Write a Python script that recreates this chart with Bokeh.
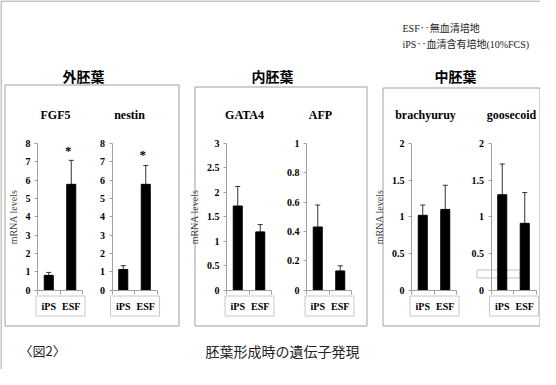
from bokeh.plotting import figure
from bokeh.models import (Range1d, LinearAxis, FixedTicker, NumeralTickFormatter,
                          ColumnDataSource, Whisker, TeeHead)
from bokeh.core.properties import value
from bokeh.embed import file_html
from bokeh.resources import INLINE

# ---------------- data ----------------
conditions = ["iPS", "ESF"]
genes = ["FGF5", "nestin", "GATA4", "AFP", "brachyuruy", "goosecoid"]
panel_titles = ["外胚葉", "内胚葉", "中胚葉"]

fgf5_values = [0.80, 5.77]
fgf5_upper = [0.96, 7.08]
nestin_values = [1.12, 5.77]
nestin_upper = [1.33, 6.80]
gata4_values = [1.72, 1.19]
gata4_upper = [2.12, 1.34]
afp_values = [0.43, 0.13]
afp_upper = [0.58, 0.165]
brachyury_values = [1.02, 1.10]
brachyury_upper = [1.16, 1.43]
goosecoid_values = [1.30, 0.91]
goosecoid_upper = [1.72, 1.33]

fgf5_ticks = [0, 1, 2, 3, 4, 5, 6, 7, 8]
nestin_ticks = [0, 1, 2, 3, 4, 5, 6, 7, 8]
gata4_ticks = [0, 0.5, 1, 1.5, 2, 2.5, 3]
afp_ticks = [0, 0.2, 0.4, 0.6, 0.8, 1]
brachyury_ticks = [0, 0.5, 1, 1.5, 2]
goosecoid_ticks = [0, 0.5, 1, 1.5, 2]

star_text = "*"
fgf5_star = 7.62
nestin_star = 7.40

y_label = "mRNA levels"
legend_lines = ["ESF‥無血清培地", "iPS‥血清含有培地(10%FCS)"]
fig_label = "〈図2〉"
fig_caption = "胚葉形成時の遺伝子発現"

values = [fgf5_values, nestin_values, gata4_values, afp_values, brachyury_values, goosecoid_values]
uppers = [fgf5_upper, nestin_upper, gata4_upper, afp_upper, brachyury_upper, goosecoid_upper]
ticks = [fgf5_ticks, nestin_ticks, gata4_ticks, afp_ticks, brachyury_ticks, goosecoid_ticks]
stars = {0: fgf5_star, 1: nestin_star}

# ---------------- layout (page pixels) ----------------
PX0, PX1, PY0, PY1 = 8, 548, 8, 377
chart_x0 = [45, 119.5, 234, 314, 419, 498.5]
cat_w = 22.5
y_zero, y_top = 297.5, 151
title_cx = [63, 137, 252, 328, 433, 519]
title_y = 122
panel_boxes = [(12.5, 186.5, 92.5, 333.5), (202.5, 374.5, 94.5, 333.5), (390.5, 547.5, 95.5, 333.5)]
panel_title_x = [91, 280, 463]
panel_title_y = 83

SERIF = "Liberation Serif"
CJK = "Noto Sans CJK JP"
MIX = "'Liberation Serif', 'Noto Sans CJK JP'"
GRAY = "#a0a0a0"

p = figure(width=PX1 - PX0, height=PY1 - PY0,
           x_range=Range1d(PX0, PX1), y_range=Range1d(PY1, PY0),
           x_axis_type=None, y_axis_type=None, toolbar_location=None,
           output_backend="svg", min_border=0, outline_line_color=None)

# outer frame
p.segment(x0=[8.5, 8.5], y0=[377, 8.5], x1=[8.5, 548], y1=[8.5, 8.5],
          line_color="#8a8a8a", line_width=1)

# panel boxes
p.quad(left=[b[0] for b in panel_boxes], right=[b[1] for b in panel_boxes],
       top=[b[2] for b in panel_boxes], bottom=[b[3] for b in panel_boxes],
       fill_color=None, line_color=GRAY, line_width=1)

# panel titles
p.text(x=panel_title_x, y=[panel_title_y] * 3, text=panel_titles,
       text_font=value(CJK), text_font_size="14px", text_font_style="bold",
       text_align="center", text_baseline="middle", text_color="black")

# legend text
p.text(x=[410, 410], y=[36, 52], text=legend_lines, text_font=value(MIX),
       text_font_size="10px", text_align="left", text_baseline="middle",
       text_color="#222222")

# caption
p.text(x=[27], y=[358], text=[fig_label], text_font=value(CJK), text_font_size="13px",
       text_align="left", text_baseline="middle", text_color="#222222")
p.text(x=[290], y=[358], text=[fig_caption], text_font=value(CJK), text_font_size="14px",
       text_align="center", text_baseline="middle", text_color="#222222")

# gene titles
p.text(x=title_cx, y=[title_y] * 6, text=genes, text_font=value(SERIF),
       text_font_size="12px", text_font_style="bold", text_align="center",
       text_baseline="middle", text_color="black")

# category label boxes
p.quad(left=[x - 1.5 for x in chart_x0], right=[min(x + 47.5, 547.5) for x in chart_x0],
       top=[303.5] * 6, bottom=[323.5] * 6, fill_color=None, line_color="#c8c8c8")

# stray legend frame in the goosecoid chart
p.quad(left=[484.5], right=[527.5], top=[277.5], bottom=[285.5],
       fill_color=None, line_color="#c0c0c0")

extra_x, extra_y = {}, {}
for i in range(6):
    x0 = chart_x0[i]
    ymax = ticks[i][-1]
    ky = ymax / (y_zero - y_top)
    extra_y[f"y{i}"] = Range1d(start=-ky * (PY1 - y_zero), end=ky * (y_zero - PY0))
    extra_x[f"x{i}"] = Range1d(start=-(x0 - PX0) / cat_w, end=(PX1 - x0) / cat_w)
p.extra_x_ranges = extra_x
p.extra_y_ranges = extra_y

for i in range(6):
    xn, yn = f"x{i}", f"y{i}"
    ymax = ticks[i][-1]
    xs = [0.5, 1.5]
    p.vbar(x=xs, top=values[i], bottom=0, width=0.4, fill_color="black",
           line_color="black", x_range_name=xn, y_range_name=yn)
    src = ColumnDataSource(dict(x=xs, lower=values[i], upper=uppers[i]))
    w = Whisker(base="x", lower="lower", upper="upper", source=src, dimension="height",
                x_range_name=xn, y_range_name=yn, line_color="#333333", line_width=1,
                lower_head=None,
                upper_head=TeeHead(size=5, line_color="#333333", line_width=1))
    p.add_layout(w)

    ya = LinearAxis(x_range_name=xn, y_range_name=yn, fixed_location=0,
                    bounds=(0, ymax), ticker=FixedTicker(ticks=ticks[i]),
                    formatter=NumeralTickFormatter(format="0.[0]"),
                    axis_line_color=GRAY, major_tick_line_color=GRAY,
                    major_tick_out=3, major_tick_in=0, minor_tick_line_color=None,
                    major_label_text_font=SERIF, major_label_text_font_size="10px",
                    major_label_text_font_style="bold", major_label_text_color="black",
                    major_label_standoff=4)
    if i in (0, 2, 4):
        ya.axis_label = y_label
        ya.axis_label_text_font = SERIF
        ya.axis_label_text_font_size = "10px"
        ya.axis_label_text_font_style = "normal"
        ya.axis_label_text_color = "#444444"
        ya.axis_label_standoff = 4
    p.add_layout(ya, "left")

    xa = LinearAxis(x_range_name=xn, y_range_name=yn, fixed_location=0,
                    bounds=(0, 2), ticker=FixedTicker(ticks=[0, 1, 2]),
                    axis_line_color=GRAY, major_tick_line_color=GRAY,
                    major_tick_out=4, major_tick_in=0, minor_tick_line_color=None,
                    major_label_text_color=None)
    p.add_layout(xa, "below")

    p.text(x=xs, y=[0, 0], text=conditions, x_range_name=xn, y_range_name=yn,
           y_offset=16, text_font=value(SERIF), text_font_size="10px",
           text_font_style="bold", text_align="center", text_baseline="middle",
           text_color="black")

    if i in stars:
        p.text(x=[1.5], y=[stars[i]], text=[star_text], x_range_name=xn, y_range_name=yn,
               x_offset=-3, text_font=value(SERIF), text_font_size="13px",
               text_font_style="bold", text_align="center", text_baseline="middle",
               text_color="black")

open("out.html", "w").write(file_html(p, INLINE))
